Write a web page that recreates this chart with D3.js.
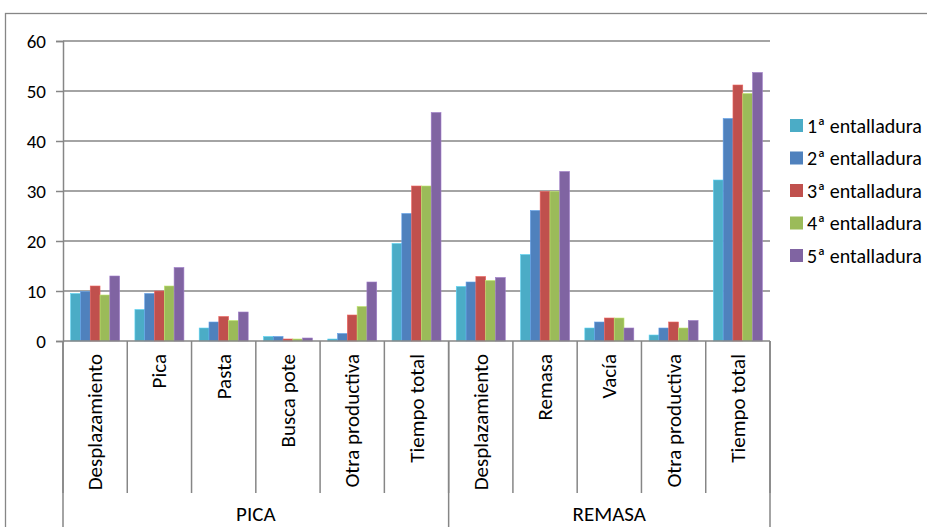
<!DOCTYPE html>
<html>
<head>
<meta charset="utf-8">
<script src="https://cdn.jsdelivr.net/npm/d3@7"></script>
<style>
  html, body { margin: 0; padding: 0; background: #fff; overflow: hidden; }
  svg { display: block; }
  text { font-family: Carlito, Lato, "Liberation Sans", sans-serif; fill: #000; }
</style>
</head>
<body>
<svg id="chart" width="927" height="527"></svg>
<script>
// Categories along the x axis, grouped in two activities
const categories = ["Desplazamiento", "Pica", "Pasta", "Busca pote", "Otra productiva", "Tiempo total",
                    "Desplazamiento", "Remasa", "Vacía", "Otra productiva", "Tiempo total"];
const groups = ["PICA", "REMASA"];
const groupSizes = [6, 5];

const seriesNames = ["1ª entalladura", "2ª entalladura", "3ª entalladura", "4ª entalladura", "5ª entalladura"];
const seriesColors = ["#4BACC6", "#4F81BD", "#C0504D", "#9BBB59", "#8064A2"];

// Values per series, one per category
const s1 = [9.5, 6.3, 2.6, 0.9, 0.4, 19.5, 10.9, 17.3, 2.6, 1.2, 32.2];
const s2 = [9.9, 9.5, 3.8, 0.9, 1.5, 25.5, 11.8, 26.1, 3.8, 2.6, 44.5];
const s3 = [11.0, 10.0, 4.9, 0.4, 5.2, 31.0, 12.9, 29.9, 4.6, 3.8, 51.2];
const s4 = [9.2, 11.0, 4.1, 0.4, 6.9, 31.0, 12.1, 29.9, 4.6, 2.6, 49.5];
const s5 = [13.0, 14.7, 5.8, 0.6, 11.8, 45.7, 12.7, 33.9, 2.6, 4.1, 53.7];
const seriesValues = [s1, s2, s3, s4, s5];

const yTicks = [0, 10, 20, 30, 40, 50, 60];

const svg = d3.select("#chart");
const gridColor = "#868686";
const tickFont = 19;
const labelFont = 21;
const legendFont = 20;

// Outer chart frame
svg.append("rect")
  .attr("x", 5.5).attr("y", 13.5)
  .attr("width", 1000).attr("height", 600)
  .attr("fill", "none").attr("stroke", gridColor).attr("stroke-width", 1.3);

const plot = { left: 63, right: 770, top: 41, bottom: 341 };

const idx = categories.map((_, i) => i);
const x0 = d3.scaleBand().domain(idx).range([plot.left, plot.right]).paddingInner(0).paddingOuter(0);
const x1 = d3.scaleBand().domain(d3.range(seriesNames.length)).range([0, x0.bandwidth()])
  .paddingInner(0).paddingOuter(0.78);
const y = d3.scaleLinear().domain([0, 60]).range([plot.bottom, plot.top]);

// Horizontal gridlines
svg.append("g").selectAll("line").data(yTicks.filter(t => t > 0)).join("line")
  .attr("x1", plot.left).attr("x2", plot.right)
  .attr("y1", d => y(d)).attr("y2", d => y(d))
  .attr("stroke", gridColor).attr("stroke-width", 1.5);

// Bars
const barG = svg.append("g");
seriesValues.forEach((vals, s) => {
  barG.append("g").selectAll("rect").data(vals).join("rect")
    .attr("x", (d, i) => x0(i) + x1(s))
    .attr("width", x1.bandwidth())
    .attr("y", d => y(d))
    .attr("height", d => y(0) - y(d))
    .attr("fill", seriesColors[s])
    .attr("stroke", d3.color(seriesColors[s]).brighter(0.6))
    .attr("stroke-width", 0.6);
});

// Y axis
const yAxis = d3.axisLeft(y).tickValues(yTicks).tickSize(7).tickPadding(10);
const yg = svg.append("g").attr("transform", `translate(${plot.left},0)`).call(yAxis);
yg.select(".domain").attr("stroke", gridColor).attr("stroke-width", 1.5);
yg.selectAll(".tick line").attr("stroke", gridColor).attr("stroke-width", 1.5);
yg.selectAll(".tick text").attr("font-size", tickFont)
  .style("font-family", "Carlito, Lato, 'Liberation Sans', sans-serif").attr("fill", "#000");

// X axis baseline
svg.append("line")
  .attr("x1", plot.left).attr("x2", plot.right)
  .attr("y1", plot.bottom).attr("y2", plot.bottom)
  .attr("stroke", gridColor).attr("stroke-width", 1.5);

// Category separators (inner level)
const bounds = idx.map(i => x0(i)).concat([plot.right]);
svg.append("g").selectAll("line").data(bounds).join("line")
  .attr("x1", d => d).attr("x2", d => d)
  .attr("y1", plot.bottom).attr("y2", 493)
  .attr("stroke", gridColor).attr("stroke-width", 1.5);

// Group separators (outer level)
let acc = 0;
const groupBounds = [x0(0)];
const groupCenters = [];
groupSizes.forEach(n => {
  const start = x0(acc);
  acc += n;
  const end = acc < categories.length ? x0(acc) : plot.right;
  groupBounds.push(end);
  groupCenters.push((start + end) / 2);
});
svg.append("g").selectAll("line").data(groupBounds).join("line")
  .attr("x1", d => d).attr("x2", d => d)
  .attr("y1", plot.bottom).attr("y2", 527)
  .attr("stroke", gridColor).attr("stroke-width", 1.5);

// Category labels, rotated
svg.append("g").selectAll("text").data(categories).join("text")
  .attr("transform", (d, i) => `translate(${x0(i) + x0.bandwidth() / 2},354) rotate(-90)`)
  .attr("text-anchor", "end")
  .attr("dominant-baseline", "central")
  .attr("font-size", labelFont)
  .text(d => d);

// Group labels
svg.append("g").selectAll("text").data(groups).join("text")
  .attr("x", (d, i) => groupCenters[i])
  .attr("y", 521)
  .attr("text-anchor", "middle")
  .attr("font-size", labelFont)
  .text(d => d);

// Legend
const legend = svg.append("g").attr("transform", "translate(790,119)");
const item = legend.selectAll("g").data(seriesNames).join("g")
  .attr("transform", (d, i) => `translate(0,${i * 32.5})`);
item.append("rect").attr("width", 13).attr("height", 13)
  .attr("fill", (d, i) => seriesColors[i]);
item.append("text").attr("x", 17).attr("y", 6.5)
  .attr("dominant-baseline", "central")
  .attr("font-size", legendFont)
  .text(d => d);
</script>
</body>
</html>
